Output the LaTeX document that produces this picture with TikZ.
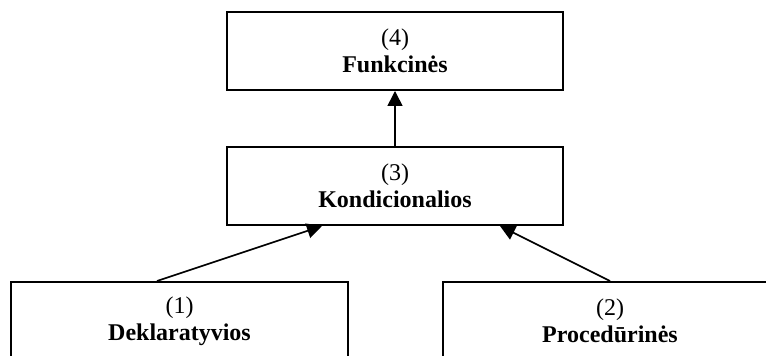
\documentclass[tikz,border=0pt]{standalone}
\usepackage{fontspec}
\setmainfont{Liberation Serif}
\usetikzlibrary{arrows.meta}

\tikzset{
  level/.style={draw=black, line width=1pt, rectangle,
    minimum height=39pt, inner sep=0pt, align=center,
    font=\fontsize{12}{13.5}\selectfont},
  link/.style={line width=0.8pt,
    -{Triangle[length=7.5pt, width=7.5pt]}}
}

\begin{document}
\begin{tikzpicture}[x=0.5pt, y=-0.5pt]
  \useasboundingbox (0,0) rectangle (766,356);
  \fill[white] (0,0) rectangle (766,356);
  \clip (0,0) rectangle (766,356);

  % the four levels of the hierarchy
  \node[level, minimum width=168pt] (f) at (395,51)
    {(4)\\\textbf{Funkcinės}};
  \node[level, minimum width=168pt] (k) at (395,186)
    {(3)\\\textbf{Kondicionalios}};
  \node[level, minimum width=168.5pt] (d) at (179.5,321)
    {(1)\\\textbf{Deklaratyvios}};
  \node[level, minimum width=167pt] (p) at (610,321)
    {(2)\\\textbf{Procedūrinės}};

  % dependencies between the levels
  \draw[link] (k.north) -- (f.south);
  \draw[link] ([xshift=-11.25pt]d.north) -- ([xshift=-36.5pt]k.south);
  \draw[link] (p.north) -- ([xshift=52.5pt]k.south);
\end{tikzpicture}
\end{document}
